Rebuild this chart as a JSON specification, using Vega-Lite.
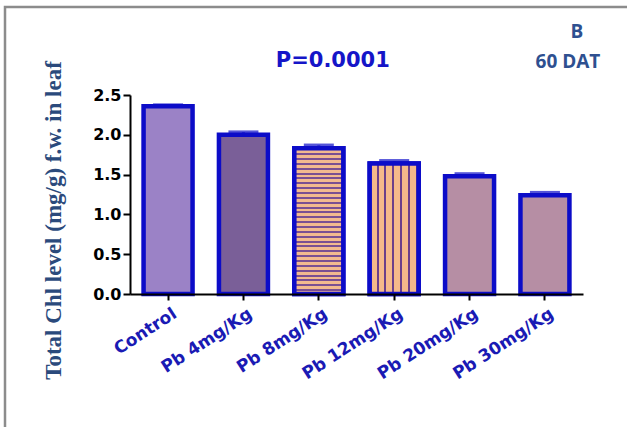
{
  "$schema": "https://vega.github.io/schema/vega-lite/v6.json",
  "width": 622,
  "height": 420,
  "autosize": "none",
  "padding": {"left": 5, "top": 7, "right": 0, "bottom": 0},
  "background": "white",
  "config": {
    "view": {"stroke": "#8c8c8c", "strokeWidth": 2.5, "strokeDash": [622, 1042, 430]}
  },
  "data": {
    "values": [
      {"treatment": "Control", "chl": 2.36, "sem": 0.01},
      {"treatment": "Pb 4mg/Kg", "chl": 2.0, "sem": 0.03},
      {"treatment": "Pb 8mg/Kg", "chl": 1.83, "sem": 0.035},
      {"treatment": "Pb 12mg/Kg", "chl": 1.64, "sem": 0.03},
      {"treatment": "Pb 20mg/Kg", "chl": 1.48, "sem": 0.025},
      {"treatment": "Pb 30mg/Kg", "chl": 1.24, "sem": 0.03}
    ]
  },
  "layer": [
    {
      "mark": {
        "type": "errorbar",
        "ticks": {"size": 30, "thickness": 4, "color": "#0c0cc8"},
        "rule": {"strokeWidth": 3, "color": "#0c0cc8"}
      },
      "encoding": {
        "x": {
          "field": "treatment",
          "type": "nominal",
          "scale": {
            "domain": ["Control", "Pb 4mg/Kg", "Pb 8mg/Kg", "Pb 12mg/Kg", "Pb 20mg/Kg", "Pb 30mg/Kg"],
            "range": [125, 578],
            "paddingInner": 0.35,
            "paddingOuter": 0.18
          },
          "axis": {
            "orient": "bottom",
            "offset": -133,
            "title": null,
            "zindex": 1,
            "domainColor": "black",
            "domainWidth": 2,
            "tickColor": "black",
            "tickWidth": 2,
            "tickSize": 6,
            "labelAngle": -33,
            "labelAlign": "right",
            "labelBaseline": "middle",
            "labelPadding": 12,
            "labelOffset": 7,
            "labelFont": "DejaVu Sans",
            "labelFontWeight": "bold",
            "labelFontSize": 17,
            "labelColor": "#1a1ab4",
            "labelOverlap": false,
            "labelFlush": false,
            "labelBound": false
          }
        },
        "y": {
          "field": "chl",
          "type": "quantitative",
          "scale": {"domain": [0, 2.5], "range": [287, 88], "nice": false, "zero": true},
          "axis": {
            "orient": "left",
            "offset": -125,
            "grid": false,
            "zindex": 1,
            "values": [0, 0.5, 1, 1.5, 2, 2.5],
            "format": ".1f",
            "domainColor": "black",
            "domainWidth": 2,
            "tickColor": "black",
            "tickWidth": 2,
            "tickSize": 7,
            "labelPadding": 2,
            "labelFont": "DejaVu Sans",
            "labelFontWeight": "bold",
            "labelFontSize": 16,
            "labelColor": "black",
            "title": "Total Chl level (mg/g) f.w. in leaf",
            "titleFont": "Liberation Serif",
            "titleFontWeight": "bold",
            "titleFontSize": 23,
            "titleColor": "#2b4a7c",
            "titleAngle": -90,
            "titleAlign": "center",
            "titleBaseline": "middle",
            "titleX": -77,
            "titleY": 213
          }
        },
        "yError": {"field": "sem"}
      }
    },
    {
      "mark": {"type": "bar", "stroke": "#0c0cc8", "strokeWidth": 4.5},
      "encoding": {
        "x": {"field": "treatment", "type": "nominal"},
        "y": {"field": "chl", "type": "quantitative"},
        "fill": {
          "condition": [
            {"test": "datum.treatment === 'Control'", "value": "#9b82c6"},
            {"test": "datum.treatment === 'Pb 4mg/Kg'", "value": "#7a5f98"},
            {"test": "datum.treatment === 'Pb 8mg/Kg'", "value": "#c99290"},
            {"test": "datum.treatment === 'Pb 12mg/Kg'", "value": "#e0a888"}
          ],
          "value": "#b68ea4"
        }
      }
    },
    {
      "transform": [{"filter": "datum.treatment === 'Pb 8mg/Kg'"}],
      "mark": {
        "type": "bar",
        "stroke": "#0c0cc8",
        "strokeWidth": 4.5,
        "fill": {
          "gradient": "linear", "x1": 0, "y1": 0, "x2": 0, "y2": 1,
          "stops": [
            {"offset": 0, "color": "#7b4f92"}, {"offset": 0.0133, "color": "#7b4f92"}, {"offset": 0.0133, "color": "#f3b98f"}, {"offset": 0.0333, "color": "#f3b98f"},
            {"offset": 0.0333, "color": "#7b4f92"}, {"offset": 0.0467, "color": "#7b4f92"}, {"offset": 0.0467, "color": "#f3b98f"}, {"offset": 0.0667, "color": "#f3b98f"},
            {"offset": 0.0667, "color": "#7b4f92"}, {"offset": 0.08, "color": "#7b4f92"}, {"offset": 0.08, "color": "#f3b98f"}, {"offset": 0.1, "color": "#f3b98f"},
            {"offset": 0.1, "color": "#7b4f92"}, {"offset": 0.1133, "color": "#7b4f92"}, {"offset": 0.1133, "color": "#f3b98f"}, {"offset": 0.1333, "color": "#f3b98f"},
            {"offset": 0.1333, "color": "#7b4f92"}, {"offset": 0.1467, "color": "#7b4f92"}, {"offset": 0.1467, "color": "#f3b98f"}, {"offset": 0.1667, "color": "#f3b98f"},
            {"offset": 0.1667, "color": "#7b4f92"}, {"offset": 0.18, "color": "#7b4f92"}, {"offset": 0.18, "color": "#f3b98f"}, {"offset": 0.2, "color": "#f3b98f"},
            {"offset": 0.2, "color": "#7b4f92"}, {"offset": 0.2133, "color": "#7b4f92"}, {"offset": 0.2133, "color": "#f3b98f"}, {"offset": 0.2333, "color": "#f3b98f"},
            {"offset": 0.2333, "color": "#7b4f92"}, {"offset": 0.2467, "color": "#7b4f92"}, {"offset": 0.2467, "color": "#f3b98f"}, {"offset": 0.2667, "color": "#f3b98f"},
            {"offset": 0.2667, "color": "#7b4f92"}, {"offset": 0.28, "color": "#7b4f92"}, {"offset": 0.28, "color": "#f3b98f"}, {"offset": 0.3, "color": "#f3b98f"},
            {"offset": 0.3, "color": "#7b4f92"}, {"offset": 0.3133, "color": "#7b4f92"}, {"offset": 0.3133, "color": "#f3b98f"}, {"offset": 0.3333, "color": "#f3b98f"},
            {"offset": 0.3333, "color": "#7b4f92"}, {"offset": 0.3467, "color": "#7b4f92"}, {"offset": 0.3467, "color": "#f3b98f"}, {"offset": 0.3667, "color": "#f3b98f"},
            {"offset": 0.3667, "color": "#7b4f92"}, {"offset": 0.38, "color": "#7b4f92"}, {"offset": 0.38, "color": "#f3b98f"}, {"offset": 0.4, "color": "#f3b98f"},
            {"offset": 0.4, "color": "#7b4f92"}, {"offset": 0.4133, "color": "#7b4f92"}, {"offset": 0.4133, "color": "#f3b98f"}, {"offset": 0.4333, "color": "#f3b98f"},
            {"offset": 0.4333, "color": "#7b4f92"}, {"offset": 0.4467, "color": "#7b4f92"}, {"offset": 0.4467, "color": "#f3b98f"}, {"offset": 0.4667, "color": "#f3b98f"},
            {"offset": 0.4667, "color": "#7b4f92"}, {"offset": 0.48, "color": "#7b4f92"}, {"offset": 0.48, "color": "#f3b98f"}, {"offset": 0.5, "color": "#f3b98f"},
            {"offset": 0.5, "color": "#7b4f92"}, {"offset": 0.5133, "color": "#7b4f92"}, {"offset": 0.5133, "color": "#f3b98f"}, {"offset": 0.5333, "color": "#f3b98f"},
            {"offset": 0.5333, "color": "#7b4f92"}, {"offset": 0.5467, "color": "#7b4f92"}, {"offset": 0.5467, "color": "#f3b98f"}, {"offset": 0.5667, "color": "#f3b98f"},
            {"offset": 0.5667, "color": "#7b4f92"}, {"offset": 0.58, "color": "#7b4f92"}, {"offset": 0.58, "color": "#f3b98f"}, {"offset": 0.6, "color": "#f3b98f"},
            {"offset": 0.6, "color": "#7b4f92"}, {"offset": 0.6133, "color": "#7b4f92"}, {"offset": 0.6133, "color": "#f3b98f"}, {"offset": 0.6333, "color": "#f3b98f"},
            {"offset": 0.6333, "color": "#7b4f92"}, {"offset": 0.6467, "color": "#7b4f92"}, {"offset": 0.6467, "color": "#f3b98f"}, {"offset": 0.6667, "color": "#f3b98f"},
            {"offset": 0.6667, "color": "#7b4f92"}, {"offset": 0.68, "color": "#7b4f92"}, {"offset": 0.68, "color": "#f3b98f"}, {"offset": 0.7, "color": "#f3b98f"},
            {"offset": 0.7, "color": "#7b4f92"}, {"offset": 0.7133, "color": "#7b4f92"}, {"offset": 0.7133, "color": "#f3b98f"}, {"offset": 0.7333, "color": "#f3b98f"},
            {"offset": 0.7333, "color": "#7b4f92"}, {"offset": 0.7467, "color": "#7b4f92"}, {"offset": 0.7467, "color": "#f3b98f"}, {"offset": 0.7667, "color": "#f3b98f"},
            {"offset": 0.7667, "color": "#7b4f92"}, {"offset": 0.78, "color": "#7b4f92"}, {"offset": 0.78, "color": "#f3b98f"}, {"offset": 0.8, "color": "#f3b98f"},
            {"offset": 0.8, "color": "#7b4f92"}, {"offset": 0.8133, "color": "#7b4f92"}, {"offset": 0.8133, "color": "#f3b98f"}, {"offset": 0.8333, "color": "#f3b98f"},
            {"offset": 0.8333, "color": "#7b4f92"}, {"offset": 0.8467, "color": "#7b4f92"}, {"offset": 0.8467, "color": "#f3b98f"}, {"offset": 0.8667, "color": "#f3b98f"},
            {"offset": 0.8667, "color": "#7b4f92"}, {"offset": 0.88, "color": "#7b4f92"}, {"offset": 0.88, "color": "#f3b98f"}, {"offset": 0.9, "color": "#f3b98f"},
            {"offset": 0.9, "color": "#7b4f92"}, {"offset": 0.9133, "color": "#7b4f92"}, {"offset": 0.9133, "color": "#f3b98f"}, {"offset": 0.9333, "color": "#f3b98f"},
            {"offset": 0.9333, "color": "#7b4f92"}, {"offset": 0.9467, "color": "#7b4f92"}, {"offset": 0.9467, "color": "#f3b98f"}, {"offset": 0.9667, "color": "#f3b98f"},
            {"offset": 0.9667, "color": "#7b4f92"}, {"offset": 0.98, "color": "#7b4f92"}, {"offset": 0.98, "color": "#f3b98f"}, {"offset": 1, "color": "#f3b98f"}
          ]
        }
      },
      "encoding": {
        "x": {"field": "treatment", "type": "nominal"},
        "y": {"field": "chl", "type": "quantitative"}
      }
    },
    {
      "transform": [{"filter": "datum.treatment === 'Pb 12mg/Kg'"}],
      "mark": {
        "type": "bar",
        "stroke": "#0c0cc8",
        "strokeWidth": 4.5,
        "fill": {
          "gradient": "linear", "x1": 0, "y1": 0, "x2": 1, "y2": 0,
          "stops": [
            {"offset": 0, "color": "#f4b98a"}, {"offset": 0.14, "color": "#f4b98a"},
            {"offset": 0.14, "color": "#6b3f8a"}, {"offset": 0.18, "color": "#6b3f8a"},
            {"offset": 0.18, "color": "#f4b98a"}, {"offset": 0.30, "color": "#f4b98a"},
            {"offset": 0.30, "color": "#6b3f8a"}, {"offset": 0.34, "color": "#6b3f8a"},
            {"offset": 0.34, "color": "#f4b98a"}, {"offset": 0.46, "color": "#f4b98a"},
            {"offset": 0.46, "color": "#6b3f8a"}, {"offset": 0.50, "color": "#6b3f8a"},
            {"offset": 0.50, "color": "#f4b98a"}, {"offset": 0.62, "color": "#f4b98a"},
            {"offset": 0.62, "color": "#6b3f8a"}, {"offset": 0.66, "color": "#6b3f8a"},
            {"offset": 0.66, "color": "#f4b98a"}, {"offset": 0.78, "color": "#f4b98a"},
            {"offset": 0.78, "color": "#6b3f8a"}, {"offset": 0.82, "color": "#6b3f8a"},
            {"offset": 0.82, "color": "#f4b98a"}, {"offset": 0.94, "color": "#f4b98a"},
            {"offset": 0.94, "color": "#6b3f8a"}, {"offset": 0.98, "color": "#6b3f8a"},
            {"offset": 0.98, "color": "#f4b98a"}, {"offset": 1, "color": "#f4b98a"}
          ]
        }
      },
      "encoding": {
        "x": {"field": "treatment", "type": "nominal"},
        "y": {"field": "chl", "type": "quantitative"}
      }
    },
    {
      "data": {"values": [{"treatment": "Pb 8mg/Kg", "chl": 2.852, "label": "P=0.0001"}]},
      "mark": {"type": "text", "font": "DejaVu Sans", "fontWeight": "bold", "fontSize": 21, "color": "#1515c8", "align": "center", "baseline": "alphabetic", "dx": 14},
      "encoding": {
        "x": {"field": "treatment", "type": "nominal"},
        "y": {"field": "chl", "type": "quantitative"},
        "text": {"field": "label"}
      }
    },
    {
      "data": {"values": [{"treatment": "Pb 30mg/Kg", "chl": 3.216, "label": "B"}]},
      "mark": {"type": "text", "font": "Open Sans", "fontWeight": "bold", "fontSize": 19, "color": "#2e5090", "align": "center", "baseline": "alphabetic", "dx": 32},
      "encoding": {
        "x": {"field": "treatment", "type": "nominal"},
        "y": {"field": "chl", "type": "quantitative"},
        "text": {"field": "label"}
      }
    },
    {
      "data": {"values": [{"treatment": "Pb 30mg/Kg", "chl": 2.839, "label": "60 DAT"}]},
      "mark": {"type": "text", "font": "Open Sans", "fontWeight": "bold", "fontSize": 19, "color": "#2e5090", "align": "center", "baseline": "alphabetic", "dx": 23},
      "encoding": {
        "x": {"field": "treatment", "type": "nominal"},
        "y": {"field": "chl", "type": "quantitative"},
        "text": {"field": "label"}
      }
    }
  ]
}
